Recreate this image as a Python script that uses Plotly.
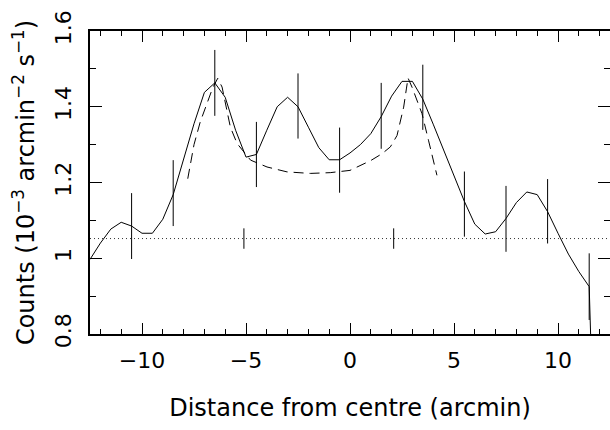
import plotly.graph_objects as go

# Smoothed profile (solid line)
prof_x = [-12.5, -12.0, -11.5, -11.0, -10.5, -10.0, -9.5, -9.0, -8.5, -8.0, -7.5, -7.0,
          -6.5, -6.0, -5.5, -5.0, -4.5, -4.0, -3.5, -3.0, -2.5, -2.0, -1.5, -1.0, -0.5,
          0.0, 0.5, 1.0, 1.5, 2.0, 2.5, 3.0, 3.5, 4.0, 4.5, 5.0, 5.5, 6.0, 6.5, 7.0, 7.5,
          8.0, 8.5, 9.0, 9.5, 10.0, 10.5, 11.0, 11.5, 12.0]
prof_y = [0.997, 1.040, 1.077, 1.095, 1.085, 1.066, 1.066, 1.103, 1.168, 1.260, 1.355, 1.438,
          1.463, 1.425, 1.338, 1.267, 1.274, 1.338, 1.400, 1.425, 1.400, 1.346, 1.292, 1.260, 1.260,
          1.278, 1.300, 1.329, 1.374, 1.428, 1.467, 1.467, 1.420, 1.354, 1.285, 1.215, 1.150, 1.090,
          1.064, 1.070, 1.105, 1.147, 1.175, 1.168, 1.123, 1.066, 1.011, 0.965, 0.925, 0.000]

# Model (dashed line)
model_x = [-7.80, -7.50, -7.20, -6.90, -6.60, -6.36, -6.15, -5.91, -5.75, -5.43, -4.78, -3.99,
           -3.03, -1.91, -0.95, 0.00, 0.50, 1.00, 1.54, 1.94, 2.26, 2.42, 2.58, 2.71, 2.79,
           2.98, 3.22, 3.46, 3.78, 4.18]
model_y = [1.210, 1.300, 1.360, 1.405, 1.450, 1.475, 1.452, 1.388, 1.346, 1.303, 1.259, 1.241,
           1.228, 1.224, 1.226, 1.232, 1.245, 1.258, 1.276, 1.294, 1.324, 1.360, 1.399, 1.447, 1.476,
           1.452, 1.417, 1.382, 1.310, 1.219]

# Binned data with 1-sigma errors
bin_x = [-10.5, -8.5, -6.5, -4.5, -2.5, -0.5, 1.5, 3.5, 5.5, 7.5, 9.5, 11.5]
bin_y = [1.085, 1.172, 1.463, 1.274, 1.402, 1.259, 1.376, 1.425, 1.143, 1.104, 1.124, 0.925]
bin_err = [0.087, 0.087, 0.087, 0.086, 0.086, 0.086, 0.087, 0.086, 0.086, 0.087, 0.085, 0.088]

# Background level and its markers
bg_level = 1.052
bg_mark_x = [-5.1, 2.1]
bg_mark_err = [0.027, 0.027]

x_range = [-12.5, 12.5]
y_range = [0.8, 1.6]

FONT = "DejaVu Sans"

fig = go.Figure()

fig.add_trace(go.Scatter(
    x=[x_range[0], x_range[1]], y=[bg_level, bg_level], mode="lines",
    line=dict(color="#333333", width=1, dash="1px,3px"), hoverinfo="skip"))

fig.add_trace(go.Scatter(
    x=bg_mark_x, y=[bg_level] * len(bg_mark_x), mode="markers",
    marker=dict(size=1, color="rgba(0,0,0,0)"),
    error_y=dict(type="data", array=bg_mark_err, width=0, thickness=1, color="black")))

fig.add_trace(go.Scatter(
    x=model_x, y=model_y, mode="lines",
    line=dict(color="black", width=1, dash="10px,6px")))

fig.add_trace(go.Scatter(
    x=prof_x, y=prof_y, mode="lines",
    line=dict(color="black", width=1)))

fig.add_trace(go.Scatter(
    x=bin_x, y=bin_y, mode="markers",
    marker=dict(size=1, color="rgba(0,0,0,0)"),
    error_y=dict(type="data", array=bin_err, width=0, thickness=1, color="black")))

axis_common = dict(
    showgrid=False, zeroline=False, showline=True, linecolor="black", linewidth=2,
    mirror="allticks", ticks="inside", tickwidth=1, tickcolor="black",
    tickfont=dict(family=FONT, size=22, color="black"),
)

fig.update_xaxes(
    range=x_range, tickmode="linear", tick0=0, dtick=5, ticklen=11, ticklabelstandoff=6,
    minor=dict(ticks="inside", ticklen=5, dtick=1, tick0=0, tickcolor="black", tickwidth=1),
    title=dict(text="Distance from centre (arcmin)", font=dict(family=FONT, size=24, color="black"),
               standoff=27),
    **axis_common)

fig.update_yaxes(
    range=y_range, tickmode="linear", tick0=0.8, dtick=0.2, ticklen=12, tickangle=-90,
    ticklabelstandoff=8,
    minor=dict(ticks="inside", ticklen=6, dtick=0.1, tick0=0.8, tickcolor="black", tickwidth=1),
    title=dict(text="Counts (10<sup>\u22123</sup> arcmin<sup>\u22122</sup> s<sup>\u22121</sup>)",
               font=dict(family=FONT, size=24, color="black"), standoff=10),
    **axis_common)

fig.update_layout(
    width=610, height=430,
    margin=dict(l=90, r=0, t=31, b=96, autoexpand=False),
    paper_bgcolor="white", plot_bgcolor="white",
    showlegend=False,
    font=dict(family=FONT, size=22, color="black"),
)

fig.write_html("out.html")
